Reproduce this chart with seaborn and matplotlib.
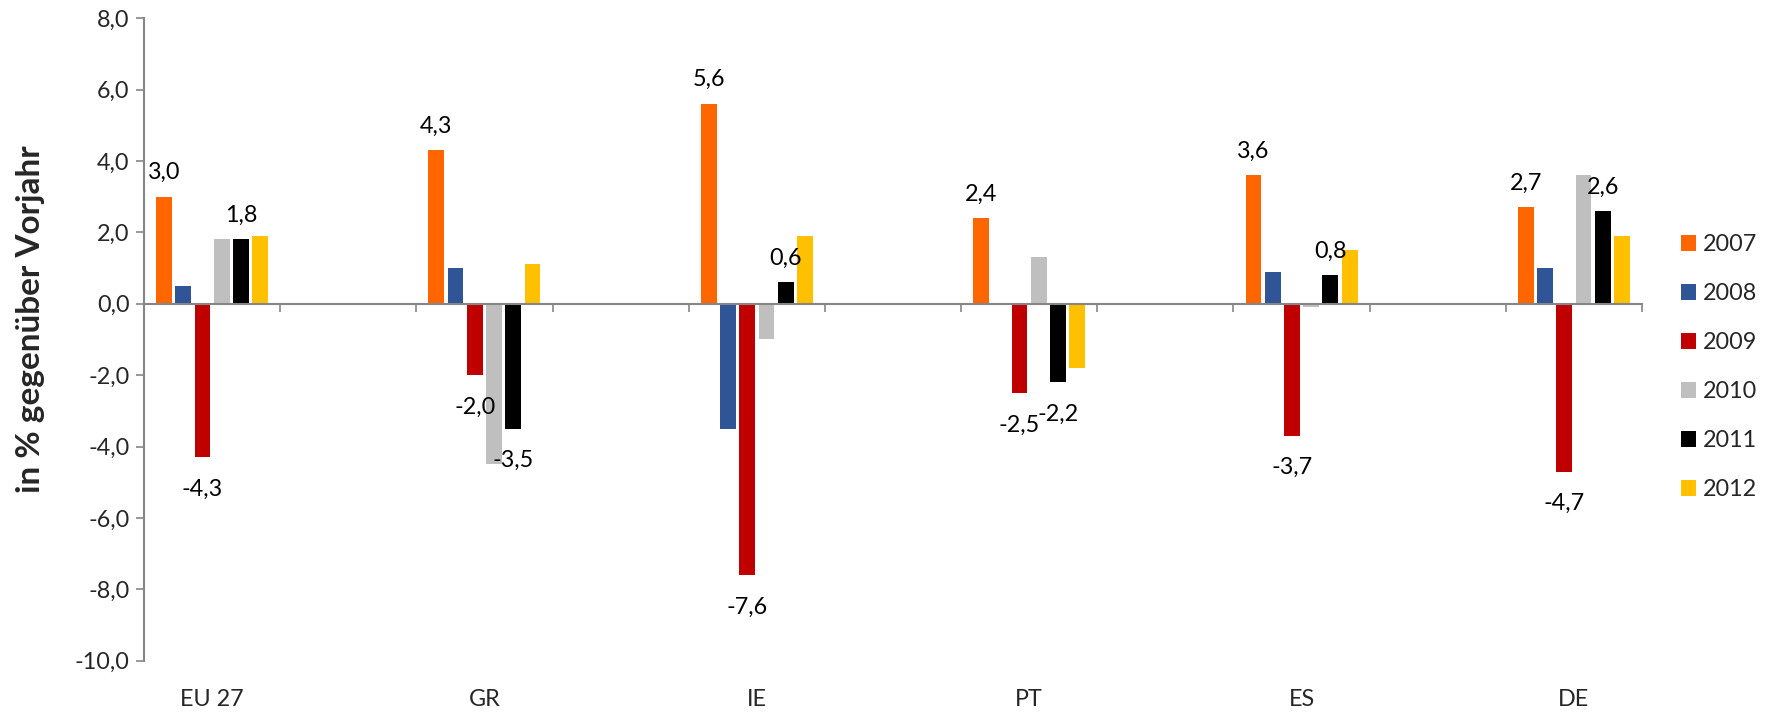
import numpy as np
import pandas as pd
import matplotlib
matplotlib.use("Agg")
import matplotlib.pyplot as plt
from matplotlib.patches import Patch
import seaborn as sns

# Real GDP growth, change against previous year in percent
countries = ["EU 27", "GR", "IE", "PT", "ES", "DE"]
years = ["2007", "2008", "2009", "2010", "2011", "2012"]
growth_2007 = [3.0, 4.3, 5.6, 2.4, 3.6, 2.7]
growth_2008 = [0.5, 1.0, -3.5, 0.0, 0.9, 1.0]
growth_2009 = [-4.3, -2.0, -7.6, -2.5, -3.7, -4.7]
growth_2010 = [1.8, -4.5, -1.0, 1.3, -0.1, 3.6]
growth_2011 = [1.8, -3.5, 0.6, -2.2, 0.8, 2.6]
growth_2012 = [1.9, 1.1, 1.9, -1.8, 1.5, 1.9]
year_colors = ["#FF6600", "#2F5597", "#C00000", "#BFBFBF", "#000000", "#FFC000"]
labelled_years = ["2007", "2009", "2011"]
y_ticks = np.arange(-10, 9, 2)

series = dict(zip(years, [growth_2007, growth_2008, growth_2009,
                          growth_2010, growth_2011, growth_2012]))
df = pd.DataFrame([
    {"country": c, "year": y, "value": v}
    for y in years for c, v in zip(countries, series[y])
])

# empty slots between the country groups
slots = []
for i, c in enumerate(countries):
    slots.append(c)
    if i < len(countries) - 1:
        slots.append(" " * (i + 1))

sns.set_style("white")
plt.rcParams["font.family"] = ["Lato", "DejaVu Sans"]
axis_grey = "#868686"
fs = 16.8

fig = plt.figure(figsize=(17.73, 7.15), dpi=100)
ax = fig.add_axes([0.0812, 0.0759, 0.8449, 0.8987])

sns.barplot(data=df, x="country", y="value", hue="year", order=slots,
            hue_order=years, palette=year_colors, saturation=1,
            width=0.848, gap=0.18, errorbar=None, linewidth=0,
            legend=False, ax=ax)

ax.set_xlim(-0.5, len(slots) - 0.5)
ax.set_ylim(-10, 8)

# value labels for 2007, 2009 and 2011
lookup = {(c, y): series[y][i] for y in years for i, c in enumerate(countries)}
for year, container in zip(years, ax.containers):
    if year not in labelled_years:
        continue
    for bar in container:
        xc = bar.get_x() + bar.get_width() / 2
        country = slots[int(round(xc))]
        val = lookup[(country, year)]
        off = 24 if val >= 0 else -32
        ax.annotate(f"{val:.1f}".replace(".", ","), (xc, val),
                    xytext=(0, off), textcoords="offset pixels",
                    ha="center", va="center", fontsize=fs, color="black")

# axes styling
sns.despine(ax=ax, top=True, right=True)
ax.spines["bottom"].set_position(("data", 0))
for s in ("left", "bottom"):
    ax.spines[s].set_color(axis_grey)
    ax.spines[s].set_linewidth(1.5)

ax.set_xticks(np.arange(-0.5, len(slots), 1.0))
ax.set_xticklabels([])
ax.tick_params(axis="x", direction="out", length=5.5, width=1.2,
               color=axis_grey, bottom=True)
for i, name in enumerate(slots):
    if name.strip():
        ax.text(i, -0.061, name, transform=ax.get_xaxis_transform(),
                ha="center", va="center", fontsize=fs)

ax.set_yticks(y_ticks)
ax.set_yticklabels([f"{v:.1f}".replace(".", ",") for v in y_ticks], fontsize=fs)
ax.tick_params(axis="y", direction="out", length=5.8, width=1.2,
               color=axis_grey, pad=4.5, left=True)

ax.set_xlabel("")
ax.set_ylabel("in % gegenüber Vorjahr", fontsize=24, fontweight="bold")
ax.yaxis.set_label_coords(-0.066, 0.532)

handles = [Patch(facecolor=c, edgecolor="none", label=y)
           for y, c in zip(years, year_colors)]
fig.legend(handles=handles, loc="center left", bbox_to_anchor=(0.948, 0.4862),
           frameon=False, fontsize=fs, borderpad=0, borderaxespad=0,
           handlelength=0.64, handleheight=0.64, handletextpad=0.3,
           labelspacing=1.2)

fig.savefig("out.png", dpi=100, facecolor="white")
